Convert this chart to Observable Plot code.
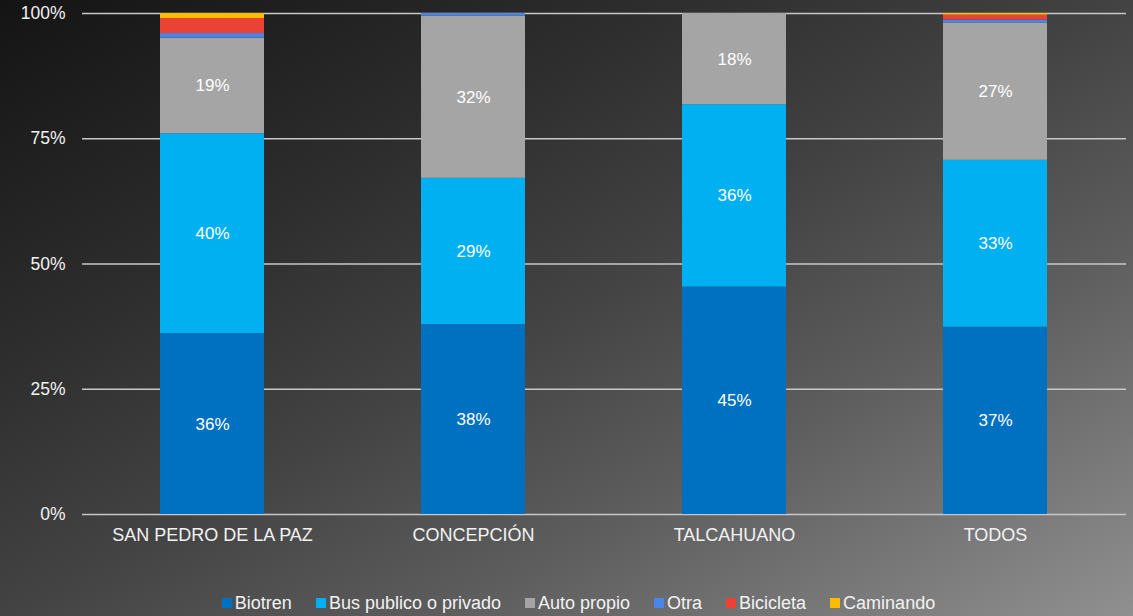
<!DOCTYPE html>
<html>
<head>
<meta charset="utf-8">
<script src="https://cdn.jsdelivr.net/npm/d3@7"></script>
<script src="https://cdn.jsdelivr.net/npm/@observablehq/plot@0.6"></script>
<style>
  html, body { margin: 0; padding: 0; }
  body {
    width: 1133px; height: 616px; overflow: hidden;
    background: linear-gradient(to bottom right, #141414 0%, #2e2e2e 30%, #434343 50%, #5e5e5e 70%, #909090 100%);
    font-family: "Liberation Sans", Arial, sans-serif;
  }
  #legend {
    display: flex; justify-content: center; align-items: center;
    height: 26px; padding-left: 24px; box-sizing: border-box; width: 1133px;
    color: #f2f2f2; font-size: 18px;
  }
  #legend .item { display: flex; align-items: center; margin: 0 12px; }
  #legend .sw { width: 10px; height: 10px; margin-right: 3px; }
</style>
</head>
<body>
<div id="chart"></div>
<div id="legend"></div>
<script>
const categories = ["SAN PEDRO DE LA PAZ", "CONCEPCIÓN", "TALCAHUANO", "TODOS"];
const series = ["Biotren", "Bus publico o privado", "Auto propio", "Otra", "Bicicleta", "Caminando"];
const colors = ["#0070c0", "#00b0f0", "#a5a5a5", "#4a86e8", "#ea4335", "#fbbc04"];
const biotren   = [36.1, 37.9, 45.4, 37.4];
const bus       = [39.9, 29.2, 36.4, 33.3];
const auto      = [19.1, 32.4, 18.2, 27.4];
const otra      = [0.9, 0.5, 0.0, 0.6];
const bicicleta = [3.0, 0.0, 0.0, 1.0];
const caminando = [1.0, 0.0, 0.0, 0.3];
const yTicks = [0, 25, 50, 75, 100];
const labeled = ["Biotren", "Bus publico o privado", "Auto propio"];

const seriesValues = [biotren, bus, auto, otra, bicicleta, caminando];
const data = [];
series.forEach((s, i) => categories.forEach((c, j) => data.push({cat: c, series: s, value: seriesValues[i][j]})));

const chart = Plot.plot({
  width: 1133,
  height: 590,
  marginTop: 13,
  marginBottom: 76,
  marginLeft: 82,
  marginRight: 7,
  style: {background: "transparent", fontFamily: "Liberation Sans, Arial, sans-serif", fontSize: "17px", color: "#f2f2f2"},
  x: {domain: categories, paddingInner: 0.6, paddingOuter: 0.3, label: null},
  y: {domain: [0, 100], label: null},
  color: {domain: series, range: colors},
  marks: [
    Plot.ruleY(yTicks, {stroke: "#c8c8c8", strokeWidth: 1.5}),
    Plot.barY(data, Plot.stackY({x: "cat", y: "value", fill: "series", z: "series", order: series,
      style: "filter: drop-shadow(2px 0px 1px rgba(0,0,0,0.45))"})),
    Plot.text(data, Plot.stackY({x: "cat", y: "value", z: "series", order: series,
      text: d => labeled.includes(d.series) ? Math.round(d.value) + "%" : null,
      fill: "#ffffff", fontSize: 17})),
    Plot.axisY({ticks: yTicks, tickSize: 0, tickPadding: 17, tickFormat: d => d + "%", fill: "#f2f2f2", fontSize: 17.5}),
    Plot.axisX({tickSize: 0, tickPadding: 14, fill: "#f2f2f2", fontSize: 18})
  ]
});
document.getElementById("chart").appendChild(chart);

const legend = document.getElementById("legend");
series.forEach((s, i) => {
  const item = document.createElement("div");
  item.className = "item";
  item.innerHTML = `<span class="sw" style="background:${colors[i]}"></span><span>${s}</span>`;
  legend.appendChild(item);
});
</script>
</body>
</html>
